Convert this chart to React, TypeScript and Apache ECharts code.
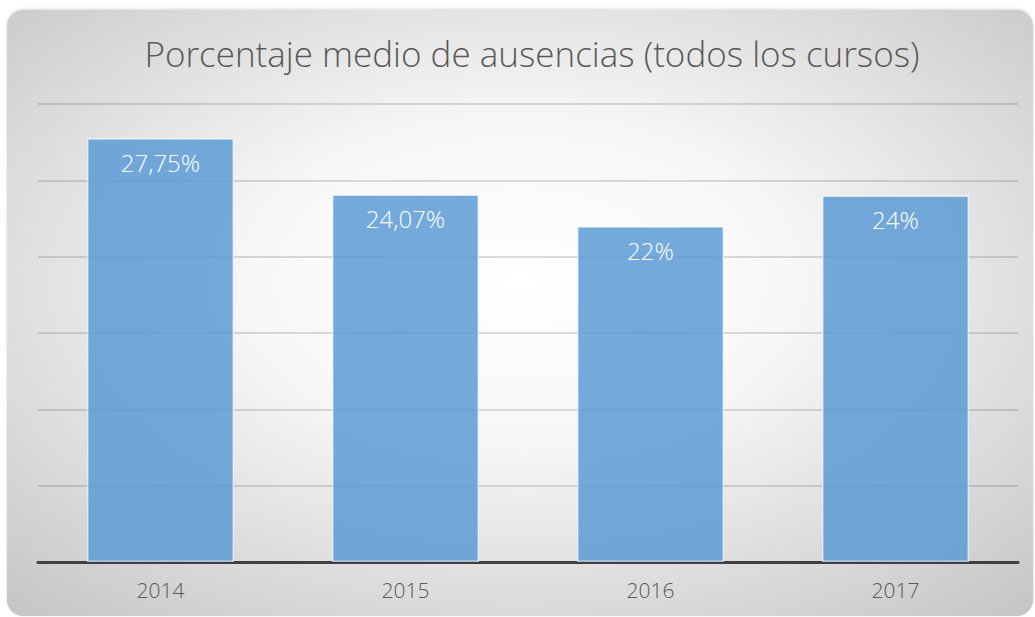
import React, { useEffect, useRef } from "react";
import * as echarts from "echarts";

const categories = ["2014", "2015", "2016", "2017"];
const values = [27.75, 24.07, 22, 24];
const valueLabels = ["27,75%", "24,07%", "22%", "24%"];
const titleText = "Porcentaje medio de ausencias (todos los cursos)";

export default function App() {
  const ref = useRef<HTMLDivElement>(null);
  useEffect(() => {
    if (!ref.current) return;
    const chart = echarts.init(ref.current, null, { renderer: "svg" });
    chart.setOption({
      animation: false,
      backgroundColor: "#ffffff",
      graphic: [
        {
          type: "rect",
          z: -10,
          silent: true,
          shape: { x: 7, y: 10, width: 1026, height: 606, r: 16 },
          style: {
            fill: new echarts.graphic.RadialGradient(0.5, 0.45, 0.75, [
              { offset: 0, color: "#ffffff" },
              { offset: 0.35, color: "#f7f7f7" },
              { offset: 1, color: "#c4c4c4" },
            ]),
            shadowBlur: 3,
            shadowColor: "rgba(0,0,0,0.15)",
            shadowOffsetY: -1,
          },
        },
      ],
      title: {
        text: titleText,
        left: 527,
        textAlign: "center",
        top: 31,
        textStyle: {
          fontFamily: "Open Sans",
          fontWeight: 300,
          fontSize: 35,
          color: "#595959",
        },
      },
      grid: { left: 38, right: 17, top: 104, bottom: 55 },
      xAxis: {
        type: "category",
        data: categories,
        axisTick: { show: false },
        axisLine: { lineStyle: { color: "#404040", width: 3 } },
        axisLabel: {
          fontFamily: "Open Sans",
          fontWeight: 300,
          fontSize: 21,
          color: "#595959",
          margin: 17,
        },
      },
      yAxis: {
        type: "value",
        min: 0,
        max: 30,
        interval: 5,
        axisLabel: { show: false },
        axisLine: { show: false },
        axisTick: { show: false },
        splitLine: { lineStyle: { color: "rgba(0,0,0,0.18)", width: 1.5 } },
      },
      series: [
        {
          type: "bar",
          data: values,
          barWidth: "60%",
          itemStyle: {
            color: "rgba(91,155,213,0.85)",
            borderColor: "rgba(255,255,255,0.6)",
            borderWidth: 1.5,
          },
          label: {
            show: true,
            position: "insideTop",
            distance: 12,
            formatter: (p: any) => valueLabels[p.dataIndex],
            fontFamily: "Open Sans",
            fontWeight: 300,
            fontSize: 24,
            color: "#ffffff",
          },
        },
      ],
    });
    return () => chart.dispose();
  }, []);
  return (
    <div style={{ position: "fixed", left: 0, top: 0, width: 1035, height: 617 }}>
      <div ref={ref} style={{ width: 1035, height: 617 }} />
    </div>
  );
}
